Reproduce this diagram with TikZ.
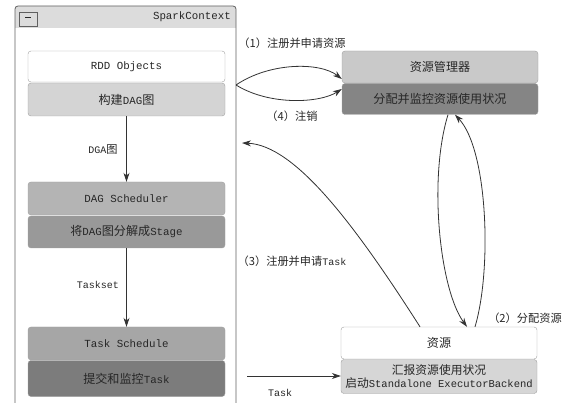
\documentclass[tikz,border=0pt]{standalone}
\usepackage{fontspec}
\setmainfont{Liberation Mono}
\newfontfamily\cjk[Scale=1.12]{Noto Sans CJK SC}
\usetikzlibrary{arrows.meta}
\newcommand\zhs[1]{{\cjk #1}}
\definecolor{boxline}{HTML}{A0A0A0}
\definecolor{frameline}{HTML}{606060}
\definecolor{txt}{HTML}{262626}
\definecolor{lin}{HTML}{333333}
\definecolor{titlefill}{HTML}{DCDCDC}
\definecolor{fA}{HTML}{D4D4D4}
\definecolor{fB}{HTML}{B4B4B4}
\definecolor{fC}{HTML}{999999}
\definecolor{fD}{HTML}{A6A6A6}
\definecolor{fE}{HTML}{7C7C7C}
\definecolor{fF}{HTML}{C9C9C9}
\definecolor{fG}{HTML}{858585}
\definecolor{fH}{HTML}{D6D6D6}
\begin{document}
\begin{tikzpicture}[x=1pt,y=-1pt,
  box/.style={draw=boxline, rounded corners=3pt, minimum width=197pt, inner sep=0pt,
    font=\fontsize{10.8}{12}\selectfont, text=txt},
  conn/.style={draw=lin, line width=0.8pt, -{Stealth[length=9pt,width=6pt]}},
  lbl/.style={font=\fontsize{10}{12}\selectfont, text=txt, inner sep=0pt}]
\useasboundingbox (0,0) rectangle (565,403);
% SparkContext frame
\fill[titlefill] (15,28) [rounded corners=3pt] -- (15,6) -- (236,6) [sharp corners] -- (236,28) -- cycle;
\draw[frameline, line width=0.8pt, rounded corners=3pt] (15,404) -- (15,6) -- (236,6) -- (236,404);
\node[draw=frameline, line width=0.7pt, minimum width=18pt, minimum height=14pt, inner sep=0pt,
  text=txt] (btn) at (28,19) {\rule[2.5pt]{6pt}{0.6pt}};
\node[lbl, anchor=east, font=\fontsize{10.8}{12}\selectfont] (title) at (231,17) {SparkContext};
% left column
\node[box, fill=white, minimum height=31pt] (rdd) at (126.5,66.5) {RDD Objects};
\node[box, fill=fA, minimum height=33pt] (dag) at (126.5,99.5) {\zhs{构建}DAG\zhs{图}};
\node[box, fill=fB, minimum height=33pt] (dsch) at (126.5,198.5) {DAG Scheduler};
\node[box, fill=fC, minimum height=32pt] (stage) at (126.5,232) {\zhs{将}DAG\zhs{图分解成}Stage};
\node[box, fill=fD, minimum height=33pt] (tsch) at (126.5,343.5) {Task Schedule};
\node[box, fill=fE, minimum height=36pt] (sub) at (126.5,378.5) {\zhs{提交和监控}Task};
% right column
\node[box, fill=fF, minimum height=32pt, minimum width=196pt] (rm) at (440,67) {\zhs{资源管理器}};
\node[box, fill=fG, minimum height=31pt, minimum width=196pt] (alloc) at (440,99) {\zhs{分配并监控资源使用状况}};
\node[box, fill=white, minimum height=32pt, minimum width=196pt] (res) at (439,343) {\zhs{资源}};
\node[box, fill=fH, minimum height=34pt, minimum width=196pt, align=center,
  font=\fontsize{10.5}{10}\selectfont] (rep) at (439,376.5) {\zhs{汇报资源使用状况}\\[1pt]\zhs{启动}Standalone ExecutorBackend};
% vertical connectors
\draw[conn] (dag.south) -- (dsch.north);
\draw[conn] (stage.south) -- (tsch.north);
\node[lbl] (l1) at (103,149) {DGA\zhs{图}};
\node[lbl] (l2) at (98,285) {Taskset};
% connectors to resource manager
\coordinate (scA) at (236,85);
\coordinate (scB) at (242,143);
\coordinate (scC) at (247,376);
\draw[conn] (scA) .. controls (270,62) and (320,62) .. (rm.south west |- 0,79);
\draw[conn] (scA) .. controls (270,106) and (320,103) .. (alloc.west |- 0,89);
\node[lbl] (l3) at (292,43) {\zhs{（1）注册并申请资源}};
\node[lbl] (l4) at (292,116) {\zhs{（4）注销}};
% (3)
\draw[conn] (res.north -| 420,0) .. controls (355,225) and (295,145) .. (scB);
\node[lbl] (l5) at (292,261) {\zhs{（3）注册并申请}Task};
% (2)
\draw[conn] (alloc.south -| 448,0) .. controls (428,180) and (440,290) .. (res.north -| 467,0);
\draw[conn] (res.north -| 475,0) .. controls (492,270) and (488,150) .. (alloc.south -| 455,0);
\node[lbl] (l6) at (525,318) {\zhs{（2）分配资源}};
% Task
\draw[conn] (scC) -- (rep.west |- 0,376);
\node[lbl] (l7) at (280,393) {Task};
\end{tikzpicture}
\end{document}
